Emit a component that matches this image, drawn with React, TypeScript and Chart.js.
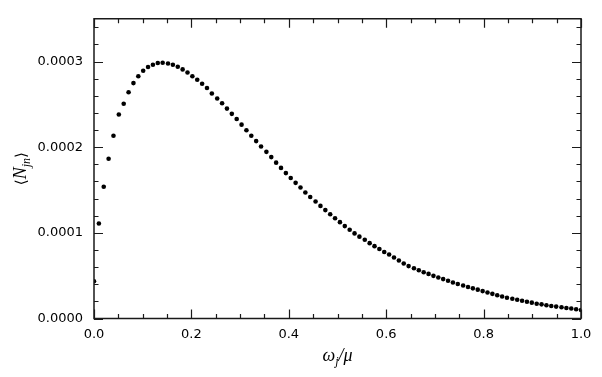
import React, { useEffect, useRef } from "react";
import { Chart, registerables } from "chart.js";

Chart.register(...registerables);

// x positions of the samples (omega_j / mu)
const xValues: number[] = [
  0.000, 0.010, 0.020, 0.030, 0.040, 0.051, 0.061, 0.071, 0.081, 0.091,
  0.101, 0.111, 0.121, 0.131, 0.141, 0.152, 0.162, 0.172, 0.182, 0.192,
  0.202, 0.212, 0.222, 0.232, 0.242, 0.253, 0.263, 0.273, 0.283, 0.293,
  0.303, 0.313, 0.323, 0.333, 0.343, 0.354, 0.364, 0.374, 0.384, 0.394,
  0.404, 0.414, 0.424, 0.434, 0.444, 0.455, 0.465, 0.475, 0.485, 0.495,
  0.505, 0.515, 0.525, 0.535, 0.545, 0.556, 0.566, 0.576, 0.586, 0.596,
  0.606, 0.616, 0.626, 0.636, 0.646, 0.657, 0.667, 0.677, 0.687, 0.697,
  0.707, 0.717, 0.727, 0.737, 0.747, 0.758, 0.768, 0.778, 0.788, 0.798,
  0.808, 0.818, 0.828, 0.838, 0.848, 0.859, 0.869, 0.879, 0.889, 0.899,
  0.909, 0.919, 0.929, 0.939, 0.949, 0.960, 0.970, 0.980, 0.990, 1.000,
];

// <N_jn> values, in units of 1e-4
const nValues: number[] = [
  0.435, 1.109, 1.538, 1.866, 2.134, 2.382, 2.508, 2.642, 2.749, 2.829,
  2.894, 2.937, 2.963, 2.983, 2.986, 2.978, 2.963, 2.940, 2.909, 2.872,
  2.829, 2.788, 2.742, 2.692, 2.627, 2.570, 2.513, 2.451, 2.390, 2.329,
  2.264, 2.198, 2.134, 2.072, 2.008, 1.946, 1.885, 1.820, 1.759, 1.698,
  1.641, 1.584, 1.529, 1.472, 1.419, 1.366, 1.315, 1.266, 1.217, 1.171,
  1.125, 1.079, 1.037, 0.994, 0.956, 0.919, 0.880, 0.845, 0.811, 0.776,
  0.747, 0.712, 0.677, 0.643, 0.612, 0.586, 0.563, 0.540, 0.521, 0.498,
  0.478, 0.460, 0.440, 0.421, 0.403, 0.386, 0.368, 0.352, 0.337, 0.320,
  0.303, 0.288, 0.272, 0.257, 0.242, 0.231, 0.219, 0.208, 0.196, 0.185,
  0.173, 0.165, 0.154, 0.146, 0.139, 0.131, 0.123, 0.116, 0.108, 0.100,
];

const xMajorTicks: number[] = [0, 0.2, 0.4, 0.6, 0.8, 1.0];
const xMinorTicks: number[] = [
  0.05, 0.1, 0.15, 0.25, 0.3, 0.35, 0.45, 0.5, 0.55, 0.65, 0.7, 0.75, 0.85, 0.9, 0.95,
];
const yMajorTicks: number[] = [0, 0.0001, 0.0002, 0.0003];
const yMinorTicks: number[] = [
  0.00002, 0.00004, 0.00006, 0.00008, 0.00012, 0.00014, 0.00016, 0.00018,
  0.00022, 0.00024, 0.00026, 0.00028, 0.00032, 0.00034,
];

const X_MIN = 0;
const X_MAX = 1;
const Y_MIN = 0;
const Y_MAX = 0.00035;

const frameColor = "#1a1a1a";

const framePlugin = {
  id: "frameTicks",
  afterDraw(chart: any) {
    const { ctx, chartArea } = chart;
    const xs = chart.scales.x;
    const ys = chart.scales.y;
    const { left, right, top, bottom } = chartArea;
    ctx.save();
    ctx.strokeStyle = frameColor;
    ctx.lineWidth = 1.5;
    ctx.beginPath();
    ctx.rect(left, top, right - left, bottom - top);
    ctx.stroke();
    ctx.lineWidth = 1.2;
    const major = 9;
    const minor = 4.5;
    ctx.beginPath();
    const xt = (v: number, len: number) => {
      const p = Math.round(xs.getPixelForValue(v)) + 0.5;
      ctx.moveTo(p, bottom);
      ctx.lineTo(p, bottom - len);
      ctx.moveTo(p, top);
      ctx.lineTo(p, top + len);
    };
    const yt = (v: number, len: number) => {
      const p = Math.round(ys.getPixelForValue(v)) + 0.5;
      ctx.moveTo(left, p);
      ctx.lineTo(left + len, p);
      ctx.moveTo(right, p);
      ctx.lineTo(right - len, p);
    };
    xMajorTicks.forEach((v) => xt(v, major));
    xMinorTicks.forEach((v) => xt(v, minor));
    yMajorTicks.forEach((v) => yt(v, major));
    yMinorTicks.forEach((v) => yt(v, minor));
    ctx.stroke();

    // axis titles
    ctx.fillStyle = "#000";
    ctx.textBaseline = "alphabetic";
    // x title: omega_j / mu
    const cx = (left + right) / 2;
    const bigFont = "italic 18px 'Liberation Serif', 'DejaVu Serif', serif";
    const subFont = "italic 12px 'Liberation Serif', 'DejaVu Serif', serif";
    const p1 = "\u03c9";
    const p2 = "j";
    const p3 = "/\u03bc";
    ctx.font = bigFont;
    const w1 = ctx.measureText(p1).width;
    const w3 = ctx.measureText(p3).width;
    ctx.font = subFont;
    const w2 = ctx.measureText(p2).width;
    let x0 = cx - (w1 + w2 + w3) / 2;
    const by = 361;
    ctx.font = bigFont;
    ctx.fillText(p1, x0, by);
    x0 += w1;
    ctx.font = subFont;
    ctx.fillText(p2, x0, by + 4);
    x0 += w2;
    ctx.font = bigFont;
    ctx.fillText(p3, x0, by);

    // y title: <N_jn>
    const cy = (top + bottom) / 2;
    ctx.translate(26, cy);
    ctx.rotate(-Math.PI / 2);
    const q1 = "\u27e8";
    const q2 = "N";
    const q3 = "jn";
    const q4 = "\u27e9";
    const brFont = "15px 'DejaVu Sans', sans-serif";
    ctx.font = brFont;
    const v1 = ctx.measureText(q1).width;
    const v4 = ctx.measureText(q4).width;
    ctx.font = bigFont;
    const v2 = ctx.measureText(q2).width;
    ctx.font = subFont;
    const v3 = ctx.measureText(q3).width;
    let y0 = -(v1 + v2 + v3 + v4) / 2;
    ctx.font = brFont;
    ctx.fillText(q1, y0, 0);
    y0 += v1;
    ctx.font = bigFont;
    ctx.fillText(q2, y0, 0);
    y0 += v2;
    ctx.font = subFont;
    ctx.fillText(q3, y0, 4);
    y0 += v3;
    ctx.font = brFont;
    ctx.fillText(q4, y0, 0);
    ctx.restore();
  },
};

export default function App() {
  const ref = useRef<HTMLCanvasElement | null>(null);
  useEffect(() => {
    if (!ref.current) return;
    const points = xValues.map((x, i) => ({ x, y: nValues[i] * 1e-4 }));
    const tickFont = { family: "'DejaVu Sans', sans-serif", size: 13 };
    const chart = new Chart(ref.current, {
      type: "scatter",
      data: {
        datasets: [
          {
            data: points,
            pointRadius: 2.3,
            pointBackgroundColor: "#000",
            pointBorderWidth: 0,
            showLine: false,
          },
        ],
      },
      options: {
        animation: false,
        responsive: false,
        devicePixelRatio: 1,
        layout: { padding: { top: 13, right: 21, left: 0, bottom: 0 } },
        plugins: { legend: { display: false }, tooltip: { enabled: false } },
        scales: {
          x: {
            type: "linear",
            min: X_MIN,
            max: X_MAX,
            afterBuildTicks: (s: any) => {
              s.ticks = xMajorTicks.map((v) => ({ value: v }));
            },
            afterFit: (s: any) => {
              s.height = 58.5;
            },
            grid: { display: false, drawTicks: false },
            border: { display: false },
            ticks: {
              padding: 8,
              color: "#000",
              font: tickFont,
              maxRotation: 0,
              callback: (v: any) => Number(v).toFixed(1),
            },
          },
          y: {
            type: "linear",
            min: Y_MIN,
            max: Y_MAX,
            afterBuildTicks: (s: any) => {
              s.ticks = yMajorTicks.map((v) => ({ value: v }));
            },
            afterFit: (s: any) => {
              s.width = 94;
            },
            grid: { display: false, drawTicks: false },
            border: { display: false },
            ticks: {
              padding: 11,
              color: "#000",
              font: tickFont,
              callback: (v: any) => Number(v).toFixed(4),
            },
          },
        },
      },
      plugins: [framePlugin],
    });
    return () => chart.destroy();
  }, []);
  return (
    <div style={{ position: "absolute", left: 0, top: 0, width: 602, height: 377, background: "#fff" }}>
      <canvas ref={ref} width={602} height={377} />
    </div>
  );
}
